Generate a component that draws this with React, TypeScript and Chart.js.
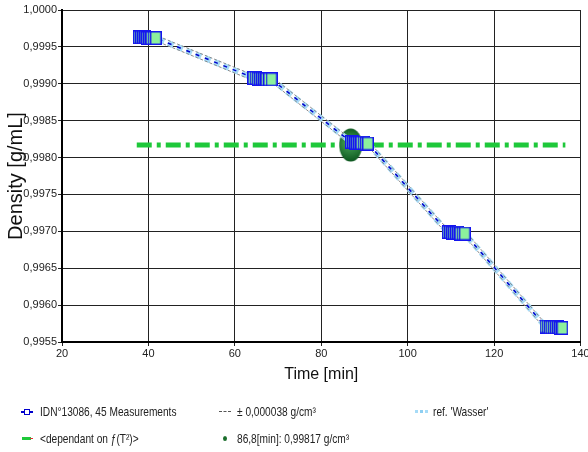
import React, { useEffect, useRef } from 'react';
import { Chart, registerables } from 'chart.js';

Chart.register(...registerables);

// ---- data ----
const xTicks = [20, 40, 60, 80, 100, 120, 140];
const yTicks = [0.9955, 0.996, 0.9965, 0.997, 0.9975, 0.998, 0.9985, 0.999, 0.9995, 1.0];

const measTimes = [
  37.8, 38.3, 38.8, 39.3, 39.7, 40.2, 40.7, 41.2, 41.7,
  64.3, 64.8, 65.3, 65.8, 66.3, 66.8, 67.3, 67.9, 68.5,
  86.9, 87.4, 87.9, 88.3, 88.8, 89.3, 89.8, 90.3, 90.8,
  109.3, 109.8, 110.3, 110.7, 111.2, 111.7, 112.2, 112.7, 113.2,
  131.9, 132.4, 132.9, 133.3, 133.8, 134.3, 134.8, 135.3, 135.8,
];
const measDensity = [
  0.99963, 0.99963, 0.99963, 0.99963, 0.99962, 0.99962, 0.99962, 0.99962, 0.99962,
  0.99908, 0.99908, 0.99907, 0.99907, 0.99907, 0.99907, 0.99906, 0.99906, 0.99906,
  0.99821, 0.99821, 0.9982, 0.9982, 0.9982, 0.9982, 0.9982, 0.99819, 0.99819,
  0.99699, 0.99699, 0.99698, 0.99698, 0.99698, 0.99698, 0.99697, 0.99697, 0.99697,
  0.99571, 0.99571, 0.9957, 0.9957, 0.9957, 0.9957, 0.9957, 0.99569, 0.99569,
];
const tolerance = 0.000038;

const refTimes = [37.8, 41.7, 64.3, 68.5, 86.9, 90.8, 109.3, 113.2, 131.9, 135.8];
const refDensity = [0.99963, 0.99962, 0.99908, 0.99906, 0.99821, 0.99819, 0.99699, 0.99697, 0.99571, 0.99569];

const levelTimes = [37.3, 136.5];
const levelDensity = [0.99817, 0.99817];

const markTimes = [86.8];
const markDensity = [0.99817];

const legendMeas = 'IDN°13086, 45 Measurements';
const legendTol = '± 0,000038 g/cm³';
const legendRef = "ref. 'Wasser'";
const legendLevel = '<dependant on ƒ(T²)>';
const legendMark = '86,8[min]: 0,99817 g/cm³';

const FONT = "'Liberation Sans', Arial, sans-serif";

function pts(xs: number[], ys: number[]) {
  return xs.map((x, i) => ({ x, y: ys[i] }));
}

function makeSquare(): HTMLCanvasElement {
  const c = document.createElement('canvas');
  c.width = 12;
  c.height = 14;
  const g = c.getContext('2d')!;
  g.fillStyle = '#8cf09c';
  g.fillRect(1, 1, 10, 12);
  g.strokeStyle = '#1515ee';
  g.lineWidth = 1.5;
  g.strokeRect(0.75, 0.75, 10.5, 12.5);
  return c;
}

function makeEllipse(): HTMLCanvasElement {
  const c = document.createElement('canvas');
  c.width = 24;
  c.height = 34;
  const g = c.getContext('2d')!;
  const grad = g.createRadialGradient(10, 14, 1, 12, 17, 17);
  grad.addColorStop(0, '#4aa85a');
  grad.addColorStop(1, '#0b551d');
  g.fillStyle = grad;
  g.beginPath();
  g.ellipse(12, 17, 11.5, 16.5, 0, 0, Math.PI * 2);
  g.fill();
  return c;
}

const legendText: React.CSSProperties = {
  position: 'absolute',
  fontFamily: FONT,
  fontSize: 13,
  color: '#222',
  whiteSpace: 'nowrap',
  transform: 'scaleX(0.78)',
  transformOrigin: 'left center',
  lineHeight: '14px',
};

export default function App() {
  const ref = useRef<HTMLCanvasElement>(null);

  useEffect(() => {
    if (!ref.current) return;
    const square = makeSquare();
    const ellipse = makeEllipse();
    const chart = new Chart(ref.current, {
      type: 'line',
      data: {
        datasets: [
          {
            label: legendMeas,
            data: pts(measTimes, measDensity),
            borderColor: '#0000cc',
            borderWidth: 1.5,
            borderDash: [4, 6],
            pointStyle: square as any,
            pointRadius: 6,
            tension: 0,
            order: 0,
          },
          {
            label: legendTol,
            data: pts(measTimes, measDensity.map((v) => v + tolerance)),
            borderColor: '#8a8a8a',
            borderWidth: 1,
            borderDash: [3, 2],
            pointRadius: 0,
            tension: 0,
            order: 2,
          },
          {
            label: legendTol + ' ',
            data: pts(measTimes, measDensity.map((v) => v - tolerance)),
            borderColor: '#8a8a8a',
            borderWidth: 1,
            borderDash: [3, 2],
            pointRadius: 0,
            tension: 0,
            order: 2,
          },
          {
            label: legendRef,
            data: pts(refTimes, refDensity),
            borderColor: '#a6dbf7',
            borderWidth: 6,
            borderDash: [6, 4],
            pointRadius: 0,
            tension: 0,
            order: 3,
          },
          {
            label: legendLevel,
            data: pts(levelTimes, levelDensity),
            borderColor: '#1ec83a',
            borderWidth: 5,
            borderDash: [15, 5, 4, 5],
            pointRadius: 0,
            tension: 0,
            order: 6,
          },
          {
            label: legendMark,
            data: pts(markTimes, markDensity),
            showLine: false,
            pointStyle: ellipse as any,
            pointRadius: 6,
            order: 5,
          },
        ],
      },
      options: {
        responsive: false,
        animation: false,
        events: [],
        layout: { padding: { top: 10, right: 6, bottom: 64, left: 0 } },
        plugins: {
          legend: { display: false },
          tooltip: { enabled: false },
        },
        scales: {
          x: {
            type: 'linear',
            min: 20,
            max: 140,
            afterBuildTicks: (s: any) => {
              s.ticks = xTicks.map((v) => ({ value: v }));
            },
            afterFit: (s: any) => {
              s.height = 46;
              s.paddingRight = 0;
              s.paddingLeft = 0;
            },
            grid: { color: '#222', lineWidth: 1, tickLength: 4 },
            border: { display: true, color: '#000', width: 2 },
            ticks: {
              color: '#222',
              font: { family: FONT, size: 11 },
              padding: 1,
              maxRotation: 0,
              callback: (v: any) => String(v),
            },
            title: {
              display: true,
              text: 'Time [min]',
              color: '#111',
              font: { family: FONT, size: 16 },
            },
          },
          y: {
            type: 'linear',
            min: 0.9955,
            max: 1.0,
            afterBuildTicks: (s: any) => {
              s.ticks = yTicks.map((v) => ({ value: v }));
            },
            afterFit: (s: any) => {
              s.width = 62;
            },
            grid: { color: '#222', lineWidth: 1, tickLength: 4 },
            border: { display: true, color: '#000', width: 2 },
            ticks: {
              color: '#222',
              font: { family: FONT, size: 11 },
              padding: 1,
              callback: (v: any) => Number(v).toFixed(4).replace('.', ','),
            },
            title: {
              display: true,
              text: 'Density [g/mL]',
              color: '#111',
              font: { family: FONT, size: 20 },
            },
          },
        },
      },
    });
    return () => chart.destroy();
  }, []);

  return (
    <div
      style={{
        position: 'fixed',
        left: 0,
        top: 0,
        width: 588,
        height: 452,
        background: '#fff',
        overflow: 'hidden',
      }}
    >
      <canvas ref={ref} width={588} height={452} style={{ position: 'absolute', left: 0, top: 0 }} />

      {/* legend row 1 */}
      <div style={{ position: 'absolute', left: 21, top: 411, width: 12, height: 2, background: '#0000cc' }} />
      <div style={{ position: 'absolute', left: 24, top: 409, width: 4, height: 4, border: '1px solid #0000cc', background: '#fff' }} />
      <div style={{ ...legendText, left: 40, top: 405 }}>{legendMeas}</div>

      <div style={{ position: 'absolute', left: 219, top: 411, width: 12, height: 0, borderTop: '1px dashed #555' }} />
      <div style={{ ...legendText, left: 237, top: 405 }}>{legendTol}</div>

      <div style={{ position: 'absolute', left: 415, top: 410, width: 3, height: 3, background: '#a6dbf7' }} />
      <div style={{ position: 'absolute', left: 420, top: 410, width: 3, height: 3, background: '#8ecff2' }} />
      <div style={{ position: 'absolute', left: 425, top: 410, width: 3, height: 3, background: '#a6dbf7' }} />
      <div style={{ ...legendText, left: 433, top: 405 }}>{legendRef}</div>

      {/* legend row 2 */}
      <div style={{ position: 'absolute', left: 22, top: 437, width: 9, height: 3, background: '#1ec83a' }} />
      <div style={{ position: 'absolute', left: 30, top: 438, width: 3, height: 1, background: '#d33' }} />
      <div style={{ ...legendText, left: 40, top: 432 }}>{legendLevel}</div>

      <div style={{ position: 'absolute', left: 223, top: 436, width: 4, height: 5, borderRadius: '50%', background: '#1b6e2c' }} />
      <div style={{ ...legendText, left: 237, top: 432 }}>{legendMark}</div>
    </div>
  );
}
